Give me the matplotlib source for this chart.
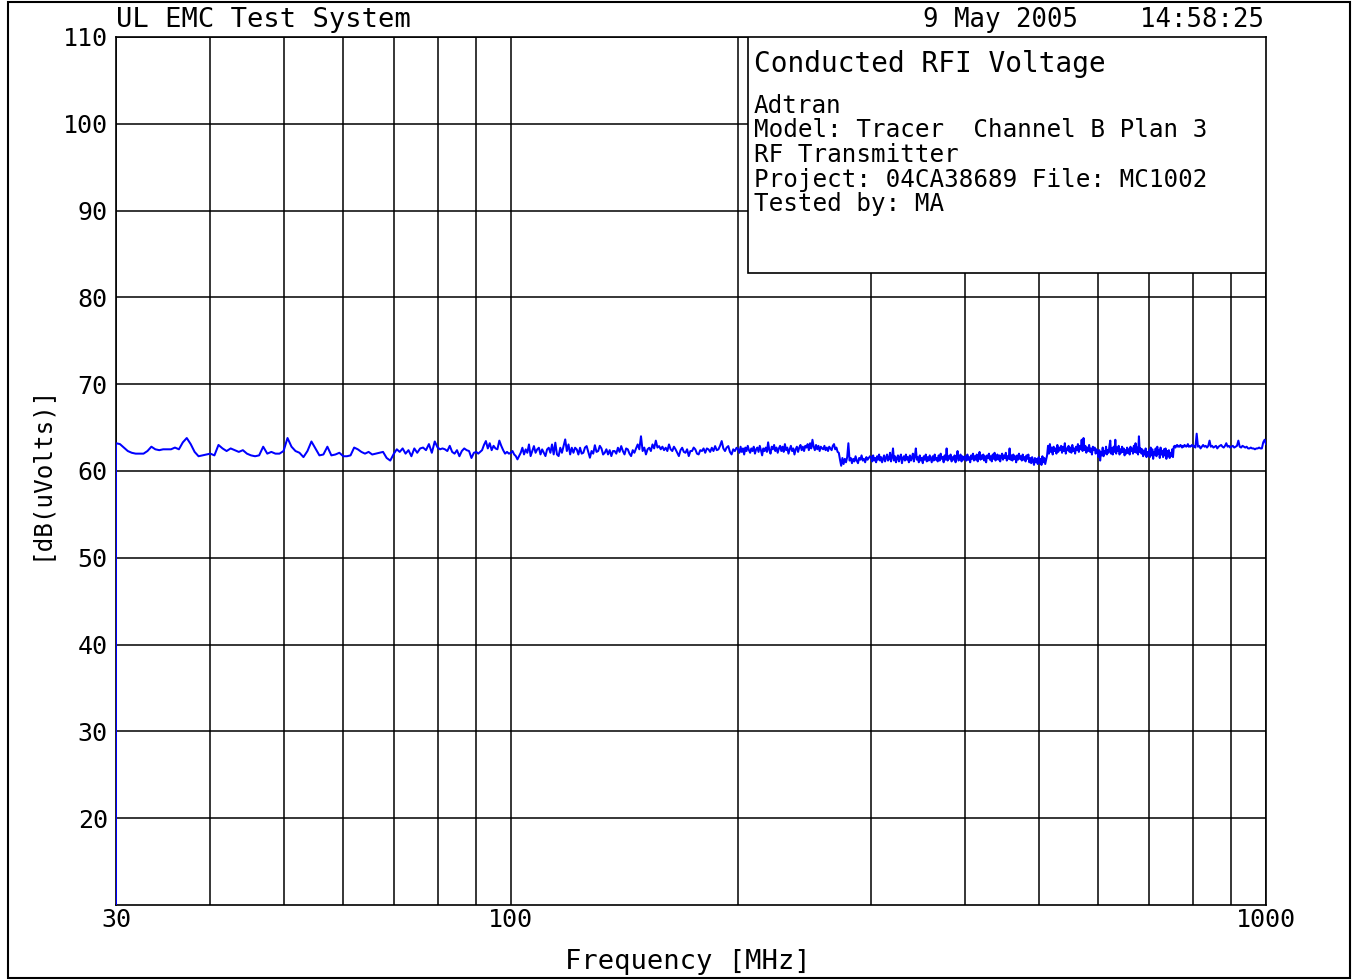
import numpy as np
import matplotlib
matplotlib.use("Agg")
import matplotlib.pyplot as plt
from matplotlib.patches import Rectangle

# ---------------- data ----------------
seg_edges = [30, 40, 50, 60, 70, 80, 90, 100, 200, 300, 400, 500, 600, 700, 800, 900, 1000]

start_freq = [30.0]
start_level = [0.0]

lv_30_40 = [63.2, 63.1, 62.7, 62.3, 62.1, 62.0, 62.0, 62.0, 62.3, 62.8, 62.5, 62.4, 62.5, 62.5,
            62.5, 62.7, 62.5, 63.3, 63.8, 63.1, 62.2, 61.7, 61.8, 61.9]
lv_40_50 = [62.0, 61.8, 63.0, 62.6, 62.3, 62.6, 62.4, 62.2, 62.4, 62.0, 61.8, 61.7, 61.8, 62.8,
            62.0, 62.2, 62.0, 62.0]
lv_50_60 = [62.3, 63.8, 62.8, 62.3, 62.1, 61.6, 62.3, 63.4, 62.6, 61.8, 61.9, 62.8, 61.8, 61.9, 62.1]
lv_60_70 = [61.7, 61.7, 61.8, 62.7, 62.5, 62.2, 62.0, 62.2, 61.9, 62.0, 62.1, 62.2, 61.5, 61.2]
lv_70_80 = [62.0, 62.5, 62.2, 62.6, 62.0, 62.4, 61.7, 62.6, 62.1, 62.6, 62.7, 62.4, 63.1, 62.1, 63.4]
lv_80_90 = [62.7, 62.5, 62.6, 62.5, 62.3, 62.9, 62.2, 62.0, 62.4, 61.7, 62.3, 62.6, 62.4, 62.3,
            61.5, 62.1]
lv_90_100 = [62.2, 62.0, 62.2, 62.4, 63.0, 63.45, 62.6, 63.2, 62.4, 62.9, 62.6, 62.5, 63.5, 62.9,
             62.4, 62.0, 62.2, 62.0]
lv_100_200 = [62.10, 62.30, 61.91, 61.72, 61.34, 61.72, 62.10, 62.68, 61.91, 62.49, 62.10, 63.06,
              61.72, 62.30, 62.87, 62.10, 62.49, 62.68, 61.91, 62.49, 62.10, 61.72, 62.49, 62.68,
              62.10, 63.06, 61.91, 63.26, 61.91, 61.72, 62.68, 62.10, 62.87, 63.64, 62.30, 63.06,
              61.91, 62.68, 62.10, 62.68,
              62.49, 61.9, 62.68, 62.0, 62.10, 62.7, 62.87, 62.2, 61.53, 62.30, 62.0, 62.97, 62.2,
              62.30, 62.9, 62.6, 61.9, 62.10, 62.5, 61.91, 62.4, 61.72, 62.3, 62.30, 62.0, 62.68,
              62.2, 62.87, 62.3, 61.91, 62.6, 62.49, 62.0, 61.72, 62.4, 62.10, 62.6, 63.06, 62.5,
              64.0, 62.30, 62.7, 61.91, 62.5, 62.68, 62.3, 63.06, 62.6, 63.5, 62.7, 62.87, 62.5,
              62.8, 62.4, 62.68, 62.3, 63.06, 62.5, 62.30, 62.8, 62.49, 62.1, 61.72, 62.4, 62.68,
              62.2, 62.10, 62.5, 61.72, 62.3, 62.30, 62.7, 62.49, 62.0, 61.91, 62.4, 62.30, 62.6,
              62.10, 62.6, 62.49, 62.2, 62.68, 62.3, 62.87, 62.4, 62.49, 62.9, 63.45, 62.6, 62.30,
              62.7, 62.87, 62.2, 61.91, 62.5, 62.30, 62.68]
lv_200_300 = [62.5, 62.1, 62.8, 62.2, 62.6, 61.9, 62.7, 62.3, 62.9, 62.4, 62.1, 62.6, 62.3, 62.8,
              62.0, 62.5, 62.7, 62.2, 62.9, 62.4, 61.8, 62.6, 62.3, 62.7, 62.2, 63.3, 62.4, 62.0,
              62.8, 62.5, 63.0, 62.3, 62.7, 62.1, 62.6, 62.9, 62.3, 62.8, 62.2, 63.1, 62.4, 62.7,
              62.0, 62.5, 62.9, 62.3, 62.6, 61.9, 62.5, 62.8, 62.2, 62.7, 63.0, 62.4, 62.8, 62.3,
              62.9,
              62.7, 63.1, 62.4, 63.2, 62.6, 63.6, 62.8, 62.4, 63.0, 62.5, 62.9, 62.3, 62.8, 62.6,
              62.5, 62.9, 62.4, 62.7, 62.3, 62.8, 62.6, 62.4, 62.9, 63.1, 62.5, 62.7, 62.2, 62.1,
              61.3, 60.6, 61.5, 60.8, 61.4, 61.0, 61.6, 63.2, 61.2, 61.5, 60.9, 61.4, 61.1, 61.7,
              61.2, 60.9, 61.5, 61.3, 61.8, 61.2, 61.4, 61.0, 61.6, 61.3, 61.5, 61.7]
lv_300_400 = [61.6, 61.1, 61.8, 61.2, 61.5, 61.0, 61.7, 61.3, 61.9, 61.2, 61.6, 61.0, 61.4, 61.8,
              61.1, 61.5, 61.9, 61.2, 61.4, 62.1, 61.1, 61.6, 62.6, 61.2, 61.7, 61.0, 61.5, 61.8,
              61.1, 61.6, 61.9, 60.9, 61.5, 61.7, 61.2, 61.9, 61.3, 61.6, 61.0, 61.8, 61.2, 61.5,
              62.0, 61.1, 61.7, 62.6, 61.3, 61.6, 61.0, 61.8, 61.2, 61.5, 60.9, 61.7, 61.3, 61.9,
              61.1, 61.6, 61.2, 61.8, 61.4, 61.0, 61.7, 61.2, 61.9, 61.3, 61.5, 61.1, 61.8, 61.2,
              62.0, 61.4, 61.6, 61.0, 61.8, 61.3, 62.6, 61.2, 61.7, 61.4, 61.9, 61.1, 61.6, 61.3,
              61.8, 61.0, 61.6, 62.3, 61.2, 61.5, 61.9, 61.1, 61.7, 61.3, 61.6]
lv_400_500 = [61.7, 61.2, 61.9, 61.3, 61.6, 61.0, 61.8, 61.4, 62.0, 61.2, 61.7, 61.3, 61.9, 61.1,
              61.6, 62.2, 61.3, 61.8, 61.4, 61.9, 61.2, 61.7, 61.0, 61.8, 61.5, 62.0, 61.3, 61.7,
              61.1, 61.9, 61.4, 62.1, 61.2, 61.6, 61.9, 61.3, 61.8, 61.1, 61.7, 62.0, 61.3, 61.8,
              61.5, 62.1, 61.2, 61.7, 61.4, 62.6, 61.3, 61.8, 61.2, 61.9, 61.4, 61.7, 61.0, 61.8,
              61.3, 62.0, 61.4, 61.7, 61.2, 61.9, 61.3, 61.6, 61.1, 61.8, 61.4, 61.9, 61.0, 61.5,
              60.9, 61.6, 61.2, 60.7, 61.5, 61.0, 61.4, 60.8]
lv_500_600 = [61.6, 60.9, 61.4, 60.7, 61.7, 61.0, 61.5, 60.8, 61.3, 61.8,
              62.9, 62.0, 63.1, 62.2, 62.7, 61.9, 62.8, 62.3, 62.6, 62.0, 63.0, 62.2, 62.7, 62.4,
              62.9, 62.1, 62.8, 62.3, 63.2, 62.0, 62.6, 62.4, 62.9, 62.2, 62.7, 62.1, 63.0, 62.3,
              62.6, 62.0, 62.8, 62.4, 63.1, 62.2, 62.9, 62.5, 63.6, 62.3, 63.8, 62.4, 62.9, 62.1,
              62.7, 62.3, 63.0, 62.2, 62.6, 61.9, 62.8, 62.4, 62.7, 62.0, 62.5, 62.2]
lv_600_700 = [61.6, 62.4, 61.2, 62.2, 61.8, 62.7, 61.7, 62.3, 62.0, 62.8, 61.9, 62.4, 62.1, 62.9,
              63.5, 62.0, 62.6, 61.9, 62.8, 62.2, 63.6, 62.0, 62.7, 62.3, 62.9, 61.9, 62.5, 62.1,
              62.8, 62.2, 62.6, 61.8, 62.4, 62.0, 62.7, 62.1, 62.5, 61.9, 62.8, 62.3, 62.6, 62.0,
              62.9, 62.2, 63.2, 62.1, 62.7, 61.9, 64.0, 62.2, 62.6, 62.0, 62.5, 61.7, 62.3, 61.9,
              62.6, 61.6, 62.2, 61.8]
lv_700_800 = [62.4, 61.6, 62.7, 61.8, 62.5, 61.4, 62.2, 61.9, 62.6, 61.7, 62.8, 62.0, 62.4, 61.5,
              62.7, 61.9, 62.3, 61.6, 62.5, 61.8, 62.6, 61.4, 62.3, 61.7, 62.4, 61.5, 62.1, 61.7,
              62.5, 61.6,
              62.8, 62.9, 62.7, 62.9, 63.0, 62.8, 62.9, 62.8, 63.0, 62.9, 62.7, 62.9, 62.8, 63.0,
              62.9, 62.8, 62.9, 63.1, 62.8, 62.9, 62.8, 62.9, 63.0]
lv_800_900 = [62.8, 62.9, 62.7, 64.3, 62.8, 62.9, 62.6, 62.8, 63.0, 62.8, 62.9, 62.7, 62.9, 63.5,
              62.8, 62.9, 62.7, 62.8, 62.9, 62.6, 62.8, 62.9, 63.0, 62.8, 62.7, 62.9, 63.2, 62.8,
              62.9, 62.7]
lv_900_1000 = [62.8, 62.9, 62.7, 62.8, 62.9, 63.5, 62.8, 62.7, 62.9, 62.8, 62.7, 62.8, 62.6, 62.6,
               62.7, 62.6, 62.6, 62.5, 62.6, 62.6, 62.7, 62.6, 62.6, 63.3, 63.6, 63.1]

segments = [lv_30_40, lv_40_50, lv_50_60, lv_60_70, lv_70_80, lv_80_90, lv_90_100,
            lv_100_200, lv_200_300, lv_300_400, lv_400_500, lv_500_600, lv_600_700,
            lv_700_800, lv_800_900, lv_900_1000]

y_ticks = [20, 30, 40, 50, 60, 70, 80, 90, 100, 110]
x_major = [30, 100, 1000]
x_minor = [40, 50, 60, 70, 80, 90, 200, 300, 400, 500, 600, 700, 800, 900]

header_left = "UL EMC Test System"
header_right = "9 May 2005    14:58:25"
box_title = "Conducted RFI Voltage"
box_lines = ["Adtran", "Model: Tracer  Channel B Plan 3", "RF Transmitter",
             "Project: 04CA38689 File: MC1002", "Tested by: MA"]

# ---------------- build trace (sweep grid per gridline segment) ----------------
freqs = list(start_freq)
levels = list(start_level)
for i, lv in enumerate(segments):
    lo, hi = seg_edges[i], seg_edges[i + 1]
    last = (i == len(segments) - 1)
    f = np.geomspace(lo, hi, len(lv), endpoint=last)
    freqs.extend(f)
    levels.extend(lv)

# ---------------- figure ----------------
W, H = 1354, 980
fig = plt.figure(figsize=(W / 100, H / 100), dpi=100)
fig.patch.set_facecolor("white")
mono = "DejaVu Sans Mono"

L, R, T, B = 116, 1266, 37, 905
ax = fig.add_axes([L / W, 1 - B / H, (R - L) / W, (B - T) / H])
ax.set_xscale("log")
ax.set_xlim(30, 1000)
ax.set_ylim(10, 110)

ax.set_xticks(x_major)
ax.set_xticklabels([str(v) for v in x_major], fontfamily=mono, fontsize=18)
ax.set_xticks(x_minor, minor=True)
ax.set_xticklabels([], minor=True)
ax.set_yticks(y_ticks)
ax.set_yticklabels([str(v) for v in y_ticks], fontfamily=mono, fontsize=18)
ax.tick_params(axis="both", which="both", length=0)
ax.tick_params(axis="y", pad=6)
ax.tick_params(axis="x", pad=2)

ax.grid(True, which="both", color="black", linewidth=1.1)
ax.set_axisbelow(True)
for s in ax.spines.values():
    s.set_color("black")
    s.set_linewidth(1.2)

ax.plot(freqs, levels, color="#0000ff", linewidth=1.45, zorder=3, clip_on=True)

# info box (axes coords)
bx0 = (748 - L) / (R - L)
by0 = (B - 273) / (B - T)
ax.add_patch(Rectangle((bx0, by0), 1 - bx0, 1 - by0, transform=ax.transAxes,
                       facecolor="white", edgecolor="black", linewidth=1.2, zorder=5))


def fx(px):
    return px / W


def fy(py):
    return 1 - py / H


fig.text(fx(754), fy(72), box_title, fontfamily=mono, fontsize=20, va="baseline",
         ha="left", zorder=10)
for txt, base in zip(box_lines, [113, 137, 162, 187, 211]):
    fig.text(fx(754), fy(base), txt, fontfamily=mono, fontsize=17.5, va="baseline",
             ha="left", zorder=10)

fig.text(fx(116), fy(27), header_left, fontfamily=mono, fontsize=19.5, va="baseline", ha="left")
fig.text(fx(1264), fy(27), header_right, fontfamily=mono, fontsize=18.5, va="baseline",
         ha="right")

fig.text(fx(688), fy(962), "Frequency [MHz]", fontfamily=mono, fontsize=19.5,
         va="center", ha="center")
fig.text(fx(40), fy(472), "[dB(uVolts)]", fontfamily=mono, fontsize=17.5, rotation=90,
         va="center", ha="center")

# outer border
fig.patches.append(Rectangle((fx(8), fy(978)), fx(1350) - fx(8), fy(2) - fy(978),
                             transform=fig.transFigure, fill=False, edgecolor="black",
                             linewidth=1.5))

fig.savefig("out.png", dpi=100)
